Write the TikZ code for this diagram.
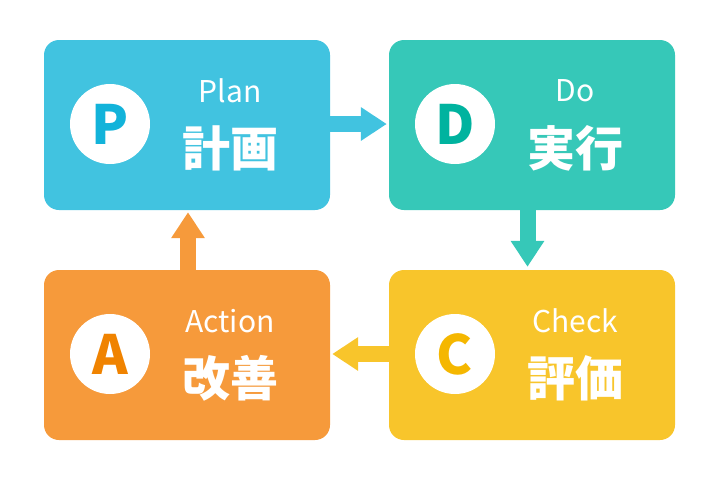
\documentclass[tikz,border=0pt]{standalone}
\usepackage{fontspec}
\setmainfont{Noto Sans CJK JP}
\usetikzlibrary{arrows.meta,calc}
\definecolor{pbox}{HTML}{41C3E0}
\definecolor{pchr}{HTML}{12B3DA}
\definecolor{dbox}{HTML}{36C8B8}
\definecolor{dchr}{HTML}{00B39F}
\definecolor{cbox}{HTML}{F8C52B}
\definecolor{cchr}{HTML}{F5B700}
\definecolor{abox}{HTML}{F69A3B}
\definecolor{achr}{HTML}{F08300}
\tikzset{
  card/.style={rounded corners=15pt, minimum width=286pt, minimum height=170pt, inner sep=0pt},
  badge/.style={circle, fill=white, minimum size=80pt, inner sep=0pt, font=\fontsize{54}{54}\selectfont\bfseries},
  eng/.style={text=white, inner sep=0pt, font=\fontsize{30}{30}\selectfont},
  jpn/.style={text=white, inner sep=0pt, font=\fontsize{48}{48}\selectfont\bfseries},
  flow/.style={line width=16pt, -{Triangle[width=32pt,length=26pt]}}
}
\begin{document}
\begin{tikzpicture}[x=1pt,y=-1pt]
\useasboundingbox (0,0) rectangle (720,480);
% boxes
\node[card, fill=pbox] (P) at (187,125) {};
\node[card, fill=dbox] (D) at (532,125) {};
\node[card, fill=cbox] (C) at (532,355) {};
\node[card, fill=abox] (A) at (187,355) {};
% badges
\node[badge, text=pchr] (pb) at (110,124) {P};
\node[badge, text=dchr] (db) at (455,124) {D};
\node[badge, text=cchr] (cb) at (455,354) {C};
\node[badge, text=achr] (ab) at (110,354) {A};
% texts
\node[eng] (pe) at (230,91) {Plan};
\node[jpn] (pj) at (230,148) {計画};
\node[eng] (de) at (575,91) {Do};
\node[jpn] (dj) at (575,148) {実行};
\node[eng] (ce) at (575,321) {Check};
\node[jpn] (cj) at (575,378) {評価};
\node[eng] (ae) at (230,321) {Action};
\node[jpn] (aj) at (230,378) {改善};
% arrows
\draw[flow, draw=pbox, fill=pbox, shorten >=2pt] ($(P.east)+(0,-1)$) -- ($(D.west)+(0,-1)$);
\draw[flow, draw=dbox, fill=dbox, shorten >=3pt] ($(D.south)+(-4.5,0)$) -- ($(C.north)+(-4.5,0)$);
\draw[flow, draw=cbox, fill=cbox, shorten >=2pt] ($(C.west)+(0,-1)$) -- ($(A.east)+(0,-1)$);
\draw[flow, draw=abox, fill=abox, shorten >=2pt] ($(A.north)+(1,0)$) -- ($(P.south)+(1,0)$);
\end{tikzpicture}
\end{document}
